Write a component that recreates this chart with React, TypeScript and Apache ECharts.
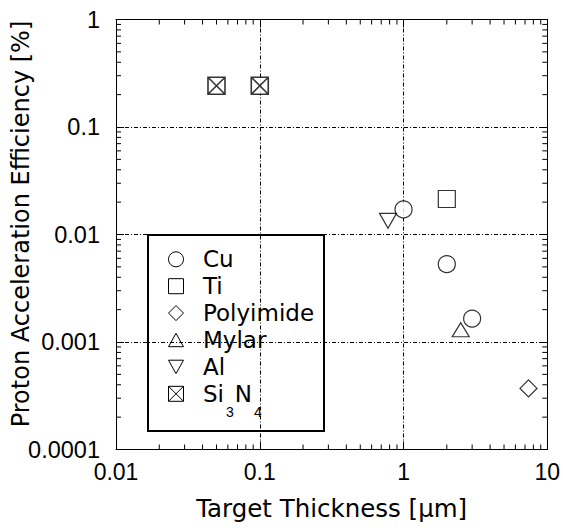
import React, { useEffect, useRef } from 'react';
import * as echarts from 'echarts';

// ---- Axis tick labels ----
const X_TICK_LABELS = ['0.01', '0.1', '1', '10'];
const Y_TICK_LABELS = ['0.0001', '0.001', '0.01', '0.1', '1'];
const MINOR_STEPS = [2, 3, 4, 5, 6, 7, 8, 9];
const X_DECADES = [0.01, 0.1, 1];
const Y_DECADES = [0.0001, 0.001, 0.01, 0.1];

// ---- Data (thickness in um, efficiency in %) ----
const CU_X = [1, 2, 3];
const CU_Y = [0.0171, 0.0053, 0.00165];
const TI_X = [2];
const TI_Y = [0.0214];
const POLYIMIDE_X = [7.4];
const POLYIMIDE_Y = [0.00037];
const MYLAR_X = [2.5];
const MYLAR_Y = [0.0013];
const AL_X = [0.78];
const AL_Y = [0.0134];
const SI3N4_X = [0.05, 0.1];
const SI3N4_Y = [0.242, 0.242];

const LEGEND_NAMES = ['Cu', 'Ti', 'Polyimide', 'Mylar', 'Al', 'Si3N4'];

const X_TITLE = 'Target Thickness [\u03bcm]';
const Y_TITLE = 'Proton Acceleration Efficiency [%]';

const TICK_FONT = 'Liberation Sans';
const TITLE_FONT = 'DejaVu Sans';

const zip = (xs: number[], ys: number[]) => xs.map((x, i) => [x, ys[i]]);

const SYM_DOWN = 'path://M0,0L10,0L5,9Z';
const SYM_BOXX = 'path://M0,0L10,0L10,10L0,10Z M0,0L10,10 M10,0L0,10';

export default function App() {
  const ref = useRef<HTMLDivElement>(null);

  useEffect(() => {
    if (!ref.current) return;
    const chart = echarts.init(ref.current, undefined, { renderer: 'svg' });

    const minorX = X_DECADES.flatMap((d) => MINOR_STEPS.map((m) => +(d * m).toPrecision(3)));
    const minorY = Y_DECADES.flatMap((d) => MINOR_STEPS.map((m) => +(d * m).toPrecision(3)));

    const tickLine = (x1: number, y1: number, x2: number, y2: number) => ({
      type: 'line',
      shape: { x1, y1, x2, y2 },
      style: { stroke: '#000', lineWidth: 1 },
    });

    const scatter = (name: string, xs: number[], ys: number[], symbol: string, size: any, bw = 1.2) => ({
      type: 'scatter',
      name,
      data: zip(xs, ys),
      symbol,
      symbolSize: size,
      itemStyle: { color: '#fff', borderColor: '#000', borderWidth: bw },
      emphasis: { disabled: true },
      z: 5,
    });

    // legend drawn with graphics
    const LX = 176;
    const ROW0 = 259.3;
    const PITCH = 26.9;
    const h = 7.5;
    const sym = { fill: '#fff', stroke: '#000', lineWidth: 1 };
    const legendChildren: any[] = [
      {
        type: 'rect',
        shape: { x: 148, y: 235, width: 176, height: 196 },
        style: { fill: '#fff', stroke: '#000', lineWidth: 2 },
      },
    ];
    const rowY = (i: number) => ROW0 + i * PITCH;
    legendChildren.push({ type: 'circle', shape: { cx: LX, cy: rowY(0), r: h }, style: sym });
    legendChildren.push({ type: 'rect', shape: { x: LX - h, y: rowY(1) - h, width: 2 * h, height: 2 * h }, style: sym });
    legendChildren.push({
      type: 'polygon',
      shape: { points: [[LX, rowY(2) - h], [LX + h, rowY(2)], [LX, rowY(2) + h], [LX - h, rowY(2)]] },
      style: sym,
    });
    legendChildren.push({
      type: 'polygon',
      shape: { points: [[LX, rowY(3) - 6.7], [LX + h, rowY(3) + 6.7], [LX - h, rowY(3) + 6.7]] },
      style: sym,
    });
    legendChildren.push({
      type: 'polygon',
      shape: { points: [[LX - h, rowY(4) - 6.7], [LX + h, rowY(4) - 6.7], [LX, rowY(4) + 6.7]] },
      style: sym,
    });
    legendChildren.push({ type: 'rect', shape: { x: LX - h, y: rowY(5) - h, width: 2 * h, height: 2 * h }, style: sym });
    legendChildren.push(tickLine(LX - h, rowY(5) - h, LX + h, rowY(5) + h));
    legendChildren.push(tickLine(LX + h, rowY(5) - h, LX - h, rowY(5) + h));

    LEGEND_NAMES.forEach((name, i) => {
      const isSi = name === 'Si3N4';
      legendChildren.push({
        type: 'text',
        x: 203,
        y: rowY(i),
        style: {
          text: isSi ? '{n|Si}{s|3}{n|N}{s|4}' : name,
          fontFamily: TITLE_FONT,
          fontSize: 23,
          fill: '#000',
          align: 'left',
          verticalAlign: 'middle',
          rich: isSi
            ? {
                n: { fontFamily: TITLE_FONT, fontSize: 23, lineHeight: 23, fill: '#000', verticalAlign: 'middle' },
                s: {
                  fontFamily: TICK_FONT,
                  fontSize: 14,
                  lineHeight: 14,
                  fill: '#000',
                  verticalAlign: 'middle',
                  padding: [36, 1, 0, 2],
                },
              }
            : undefined,
        },
      });
    });

    const option: any = {
      animation: false,
      backgroundColor: '#fff',
      grid: { left: 116, right: 15.7, top: 19.5, bottom: 78.5, containLabel: false, outerBoundsMode: 'none' },
      xAxis: [
        {
          type: 'log',
          logBase: 10,
          min: 0.01,
          max: 10,
          name: X_TITLE,
          nameLocation: 'middle',
          nameGap: 46,
          nameMoveOverlap: false,
          nameTextStyle: { fontFamily: TITLE_FONT, fontSize: 24.5, color: '#000' },
          axisLine: { show: true, lineStyle: { color: '#000', width: 1 } },
          axisTick: { show: true, inside: true, length: 8, lineStyle: { color: '#000' } },
          axisLabel: {
            fontFamily: TICK_FONT,
            fontSize: 23,
            color: '#000',
            margin: 11,
            formatter: (v: number, i: number) => X_TICK_LABELS[i] ?? String(v),
          },
          splitLine: { show: true, lineStyle: { color: '#000', width: 1, type: [4, 2, 1, 2] } },
        },
        {
          type: 'log',
          logBase: 10,
          min: 0.01,
          max: 10,
          position: 'top',
          axisLine: { show: true, lineStyle: { color: '#000', width: 1 } },
          axisTick: { show: true, inside: true, length: 8, lineStyle: { color: '#000' } },
          axisLabel: { show: false },
          splitLine: { show: false },
        },
      ],
      yAxis: [
        {
          type: 'log',
          logBase: 10,
          min: 0.0001,
          max: 1,
          name: Y_TITLE,
          nameLocation: 'middle',
          nameGap: 83,
          nameRotate: 90,
          nameMoveOverlap: false,
          nameTextStyle: { fontFamily: TITLE_FONT, fontSize: 24, color: '#000', padding: [0, 0, 0, 21] },
          axisLine: { show: true, lineStyle: { color: '#000', width: 1 } },
          axisTick: { show: true, inside: true, length: 8, lineStyle: { color: '#000' } },
          axisLabel: {
            fontFamily: TICK_FONT,
            fontSize: 23.5,
            color: '#000',
            margin: 16,
            padding: [0, 0, 8, 0],
            formatter: (v: number, i: number) => Y_TICK_LABELS[i] ?? String(v),
          },
          splitLine: { show: true, lineStyle: { color: '#000', width: 1, type: [4, 2, 1, 2] } },
        },
        {
          type: 'log',
          logBase: 10,
          min: 0.0001,
          max: 1,
          position: 'right',
          axisLine: { show: true, lineStyle: { color: '#000', width: 1 } },
          axisTick: { show: true, inside: true, length: 8, lineStyle: { color: '#000' } },
          axisLabel: { show: false },
          splitLine: { show: false },
        },
      ],
      series: [
        {
          type: 'custom',
          name: 'xMinor',
          silent: true,
          data: minorX.map((v) => [v, 0.01]),
          renderItem: (params: any, api: any) => {
            const cs = params.coordSys;
            const p = api.coord([api.value(0), api.value(1)]);
            const b = cs.y + cs.height;
            return {
              type: 'group',
              children: [tickLine(p[0], b, p[0], b - 5), tickLine(p[0], cs.y, p[0], cs.y + 5)],
            };
          },
          z: 3,
        },
        {
          type: 'custom',
          name: 'yMinor',
          silent: true,
          data: minorY.map((v) => [1, v]),
          renderItem: (params: any, api: any) => {
            const cs = params.coordSys;
            const p = api.coord([api.value(0), api.value(1)]);
            const r = cs.x + cs.width;
            return {
              type: 'group',
              children: [tickLine(cs.x, p[1], cs.x + 5, p[1]), tickLine(r, p[1], r - 5, p[1])],
            };
          },
          z: 3,
        },
        scatter('Cu', CU_X, CU_Y, 'circle', 17),
        scatter('Ti', TI_X, TI_Y, 'rect', 17),
        scatter('Polyimide', POLYIMIDE_X, POLYIMIDE_Y, 'diamond', 17),
        scatter('Mylar', MYLAR_X, MYLAR_Y, 'triangle', [17, 14]),
        scatter('Al', AL_X, AL_Y, SYM_DOWN, [17, 15]),
        scatter('Si3N4', SI3N4_X, SI3N4_Y, SYM_BOXX, 17, 1.6),
      ],
      graphic: [{ type: 'group', z: 100, children: legendChildren }],
    };

    chart.setOption(option);
    return () => chart.dispose();
  }, []);

  return (
    <div
      ref={ref}
      style={{ position: 'fixed', left: 0, top: 0, width: 563, height: 528, background: '#fff' }}
    />
  );
}
